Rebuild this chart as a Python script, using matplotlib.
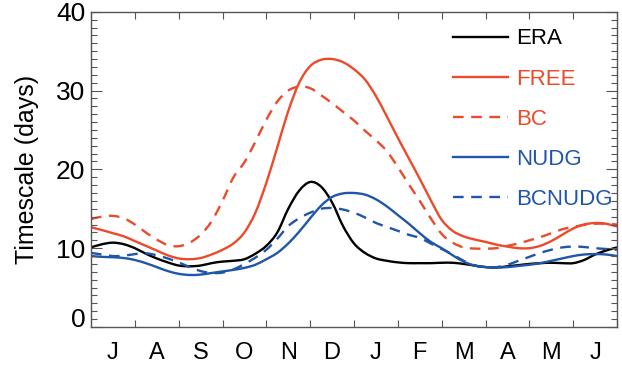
"""Seasonal cycle of the timescale for ERA and the model experiments."""

import matplotlib
matplotlib.use("Agg")
import matplotlib.pyplot as plt
import numpy as np
from matplotlib.lines import Line2D
from matplotlib.patches import PathPatch
from matplotlib.path import Path

# Months run July..June, values sampled every quarter month
month_labels = ['J', 'A', 'S', 'O', 'N', 'D', 'J', 'F', 'M', 'A', 'M', 'J']
month_pos = np.arange(0, 12.01, 0.25)

era = [10.1, 10.5, 10.7, 10.5, 10.0, 9.3, 8.7, 8.2, 7.8, 7.7, 7.8, 8.1,
       8.3, 8.4, 8.6, 9.3, 10.3, 12.0, 15.0, 17.3, 18.4, 17.8, 15.8, 12.8,
       10.6, 9.4, 8.7, 8.4, 8.2, 8.1, 8.1, 8.1, 8.15, 8.15, 8.0, 7.8,
       7.6, 7.55, 7.7, 7.85, 8.0, 8.1, 8.15, 8.1, 8.1, 8.5, 9.2, 9.7, 10.1]

free = [12.65, 12.3, 11.9, 11.5, 10.9, 10.3, 9.7, 9.1, 8.7, 8.6, 8.75, 9.2,
        9.8, 10.6, 12.0, 14.5, 18.3, 22.8, 27.4, 31.0, 33.1, 33.9, 34.0, 33.6,
        32.7, 31.4, 29.3, 26.7, 24.0, 21.4, 18.8, 16.1, 13.6, 12.2, 11.5, 11.1,
        10.8, 10.45, 10.2, 10.0, 10.0, 10.3, 10.9, 11.7, 12.5, 13.0, 13.2, 13.1, 12.75]

bc = [13.7, 14.0, 14.1, 13.8, 13.0, 12.0, 11.1, 10.4, 10.25, 10.7, 11.7, 13.4,
      16.0, 19.0, 20.9, 23.5, 26.3, 28.6, 30.0, 30.5, 30.3, 29.4, 28.4, 27.3,
      26.2, 24.9, 23.7, 22.3, 20.3, 18.1, 16.0, 13.8, 11.8, 10.7, 10.1, 9.95,
      9.95, 10.0, 10.3, 10.6, 11.0, 11.4, 11.9, 12.4, 12.7, 12.95, 13.1, 13.1, 13.0]

nudg = [9.0, 8.9, 8.85, 8.75, 8.5, 8.1, 7.6, 7.1, 6.75, 6.6, 6.65, 6.85,
        7.05, 7.25, 7.5, 7.9, 8.6, 9.4, 10.6, 12.1, 13.8, 15.4, 16.5, 16.95,
        17.0, 16.8, 16.2, 15.3, 14.2, 13.1, 11.9, 10.8, 10.0, 9.1, 8.3, 7.8,
        7.6, 7.55, 7.6, 7.75, 7.9, 8.1, 8.4, 8.7, 9.0, 9.2, 9.25, 9.2, 9.0]

bcnudg = [9.4, 9.2, 9.0, 9.05, 9.25, 9.35, 9.1, 8.7, 8.2, 7.6, 7.1, 6.85,
          6.9, 7.3, 8.0, 8.8, 9.8, 11.2, 12.8, 13.8, 14.5, 15.0, 15.1, 14.9,
          14.5, 13.9, 13.2, 12.7, 12.2, 11.7, 11.3, 10.6, 9.9, 9.2, 8.4, 7.8,
          7.6, 7.6, 7.9, 8.4, 8.9, 9.4, 9.8, 10.1, 10.2, 10.15, 10.0, 9.9, 9.8]

RED = '#EC4A2A'
BLUE = '#1F55AB'
FRAME = '#555555'

plt.rcParams['font.family'] = ['Liberation Sans', 'DejaVu Sans']


def _smooth_path(x, y) -> Path:
    """Cubic Bezier path through every sample (Catmull-Rom tangents)."""
    pts = np.column_stack([x, y]).astype(float)
    n = len(pts)
    verts = [pts[0]]
    codes = [Path.MOVETO]
    for i in range(n - 1):
        p0 = pts[max(i - 1, 0)]
        p1 = pts[i]
        p2 = pts[i + 1]
        p3 = pts[min(i + 2, n - 1)]
        verts += [p1 + (p2 - p0) / 6.0, p2 - (p3 - p1) / 6.0, p2]
        codes += [Path.CURVE4] * 3
    return Path(verts, codes)


def make_plot(out_png: str) -> None:
    """Draw the five seasonal curves and save the figure."""
    fig = plt.figure(figsize=(6.22, 3.67), dpi=100)
    ax = fig.add_axes([0.1463, 0.109, 0.8457, 0.859])

    dash = (4.5, 3.2)
    lw = 1.7
    series = [
        ('ERA', era, 'black', '-'),
        ('FREE', free, RED, '-'),
        ('BC', bc, RED, (0, dash)),
        ('NUDG', nudg, BLUE, '-'),
        ('BCNUDG', bcnudg, BLUE, (0, dash)),
    ]
    handles = []
    for name, vals, color, ls in series:
        ax.add_patch(PathPatch(_smooth_path(month_pos, vals), fill=False,
                               edgecolor=color, lw=lw, linestyle=ls,
                               capstyle='butt', joinstyle='round'))
        handles.append(Line2D([], [], color=color, lw=lw, linestyle=ls,
                              label=name))

    ax.set_xlim(0, 12)
    ax.set_ylim(0, 40)

    # month boundaries get ticks, month centres get the labels
    ax.set_xticks(np.arange(0, 13))
    ax.set_xticklabels([])
    ax.set_xticks(np.arange(0.5, 12), minor=True)
    ax.set_xticklabels(month_labels, minor=True, fontsize=17)
    ax.tick_params(axis='x', which='major', direction='in', length=5,
                   top=True, color=FRAME, width=0.8)
    ax.tick_params(axis='x', which='minor', length=0, pad=11)

    ax.set_yticks(np.arange(0, 41, 10))
    ax.set_yticks(np.arange(0, 41, 1), minor=True)
    ax.tick_params(axis='y', which='major', direction='in', length=8,
                   right=True, labelsize=19, color=FRAME, width=0.8, pad=4)
    ax.tick_params(axis='y', which='minor', direction='in', length=4,
                   right=True, color=FRAME, width=0.8)
    ylabels = ax.get_yticklabels()
    ylabels[0].set_va('baseline')

    for spine in ax.spines.values():
        spine.set_color(FRAME)
        spine.set_linewidth(1.0)

    ax.set_ylabel('Timescale (days)', fontsize=18, labelpad=12)

    ax.legend(handles=handles, loc='upper left', bbox_to_anchor=(0.688, 0.947),
              frameon=False, labelcolor='linecolor', fontsize=16,
              handlelength=2.5, handletextpad=0.35, labelspacing=0.86,
              borderpad=0, borderaxespad=0)

    fig.savefig(out_png, dpi=100)
    plt.close(fig)


if __name__ == '__main__':
    make_plot('out.png')
